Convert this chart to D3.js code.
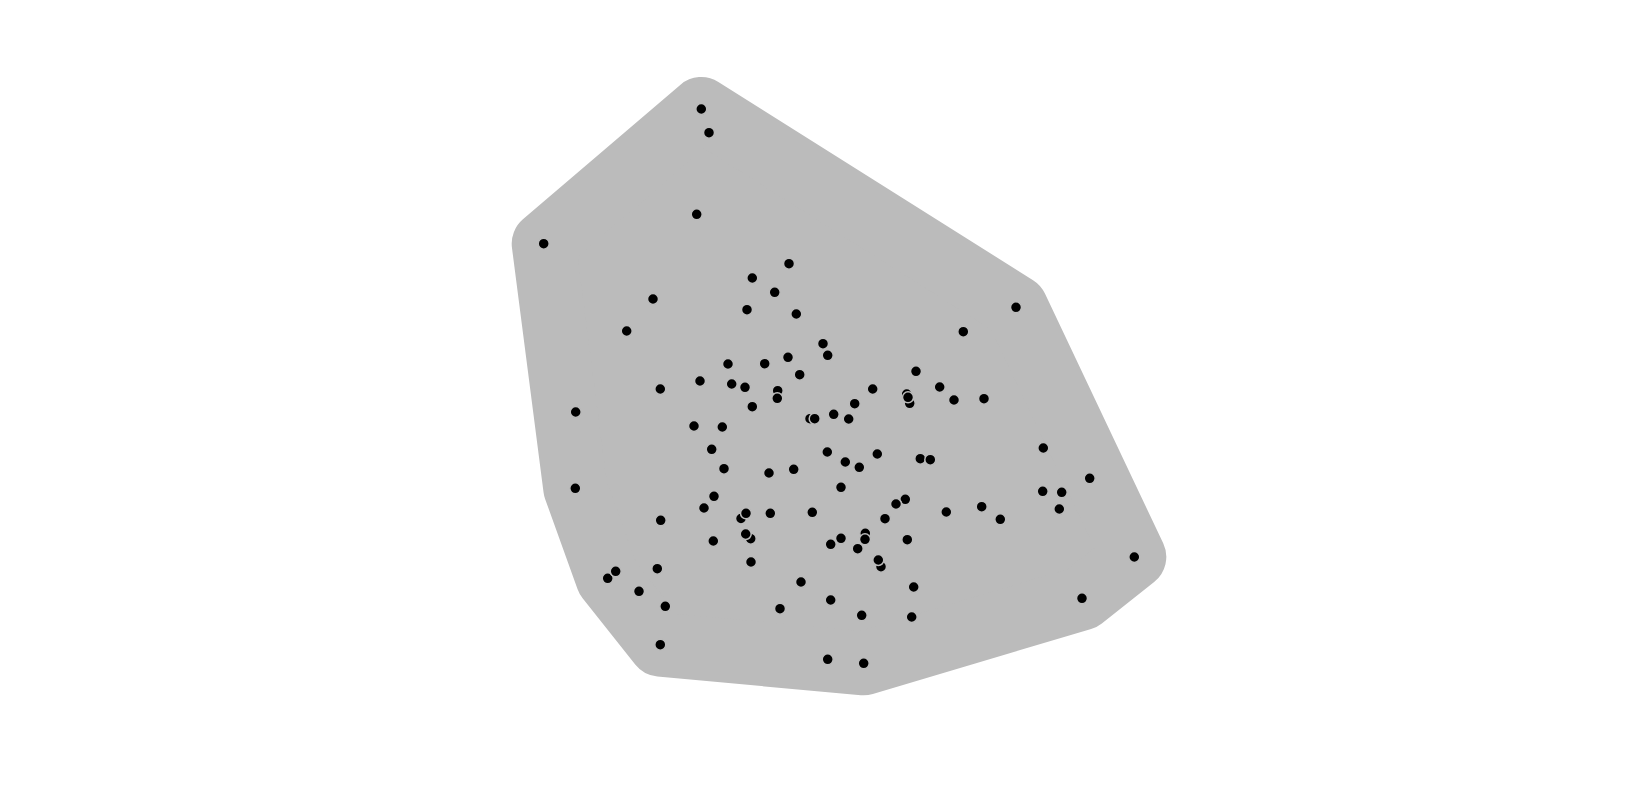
<!DOCTYPE html>
<html>
<head>
<meta charset="utf-8">
<script src="https://cdn.jsdelivr.net/npm/d3@7"></script>
<style>
    body { margin: 0; background: #fff; }
    svg { display: block; }
</style>
</head>
<body>
<svg id="chart"></svg>
<script>

//
// ***********************************************************************************
//                      DATA
//
// ***********************************************************************************
//

// Point offsets from the centre of the view (x right, y down).
const pointX = [
    -112.7, -105, -117.3, -270.3, -161, -187.3, -86, -114, -82.3, -25,
    -61.7, -39.3, -67, -17.7, 9, 13.7, -49.3, -26, -14.3, 102,
    149.3, 202, -153.7, -238.3, -120, -91.7, -102.3, -90, -238.7, -100,
    -110, -73, -153.3, -100.7, -156.7, -206.3, -198.3, -175, -148.7, -153.7,
    -69, -36.3, -36.7, -61.7, 58.7, 40.7, 19.7, 34.7, -4, 0.7,
    92.7, 95.7, 94, 125.7, 140, 170, 13.3, 31.3, 45.3, 63.3,
    106.3, 116.3, -45, -20.3, 27, 91.3, 82, 71, 132.3, 167.7,
    -68, -43.7, -1.7, -63.3, -68.3, -63, 16.7, 27, 51.3, 51,
    43.7, 93.3, 67, 64.3, -13, -34, 16.7, 47.7, 99.7, 97.7,
    13.7, 49.7, 229.3, 275.7, 228.7, 247.7, 245.3, 186.3, 320.3, 268
];

const pointY = [
    -294, -270.3, -188.7, -159.3, -104, -72, -39, -22, -19, -139.3,
    -125, -110.7, -93.3, -89, -59.3, -47.7, -39.3, -45.7, -28.3, -31.7,
    -71.3, -95.7, -14, 9, 23, 24, 46.3, 65.7, 85.3, 93.3,
    105, 115.5, 117.3, 138, 165.7, 175.3, 168.3, 188.3, 203.3, 241.7,
    -15.7, -12.3, -4.7, 3.7, -14, 0.7, 11.3, 16, 15.7, 15.7,
    -9, 0.3, -5.7, -16, -3, -4.3, 49, 59, 64.3, 51,
    55.7, 56.7, 70, 66.3, 84.3, 96.3, 101, 115.7, 109, 103.7,
    110.3, 110.3, 109.3, 135.7, 131, 159, 141.3, 135.3, 130.3, 136.3,
    145.7, 136.7, 163.7, 157, 179, 205.7, 197, 212.3, 184, 214,
    256.3, 260.3, 45, 75.3, 88.3, 89.3, 106, 116.3, 154, 195.3
];

//
// ***********************************************************************************
//                      CHART
//
// ***********************************************************************************
//

const width = 1628;
const height = 806;

const svg = d3.select("#chart")
    .attr("width", width)
    .attr("height", height)
    .attr("viewBox", [0, 0, width, height]);

// Offsets are centred on the middle of the page.
const x = d3.scaleLinear()
    .domain([-width / 2, width / 2])
    .range([0, width]);
const y = d3.scaleLinear()
    .domain([-height / 2, height / 2])
    .range([0, height]);

const points = pointX.map((d, i) => [x(d), y(pointY[i])]);

// Hull, padded out by a thick round-joined stroke.
const hull = d3.polygonHull(points);
svg.append("path")
    .attr("d", "M" + hull.join("L") + "Z")
    .attr("fill", "#bbb")
    .attr("stroke", "#bbb")
    .attr("stroke-width", 64)
    .attr("stroke-linejoin", "round");

// The outline matches the hull so it only shows where points overlap.
svg.append("g")
    .selectAll("circle")
    .data(points)
    .join("circle")
        .attr("cx", d => d[0])
        .attr("cy", d => d[1])
        .attr("r", 5.5)
        .attr("fill", "#000")
        .attr("stroke", "#bbb")
        .attr("stroke-width", 1.5);

</script>
</body>
</html>
